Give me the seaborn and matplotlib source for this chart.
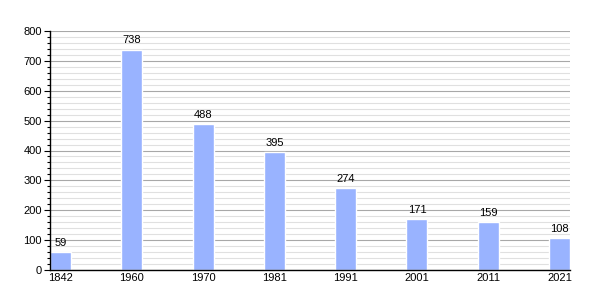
import matplotlib
matplotlib.use("Agg")
import matplotlib.pyplot as plt
import seaborn as sns
import pandas as pd
from matplotlib.ticker import MultipleLocator

years = ["1842", "1960", "1970", "1981", "1991", "2001", "2011", "2021"]
population = [59, 738, 488, 395, 274, 171, 159, 108]

sns.set_theme(style="white")
plt.rcParams['font.family'] = ['Liberation Sans', 'DejaVu Sans']
plt.rcParams['text.color'] = 'black'
plt.rcParams['xtick.color'] = 'black'
plt.rcParams['ytick.color'] = 'black'

df = pd.DataFrame({"year": years, "pop": population})

fig = plt.figure(figsize=(6, 3), dpi=100)
ax = fig.add_axes([50/600, 30/300, 520/600, 239/300])

w = 0.295
sns.barplot(data=df, x="year", y="pop", color="#99b3ff", saturation=1,
            width=w, ax=ax, zorder=3)

ax.set_xlim(-w/2, len(years) - 1 + w/2)
ax.set_ylim(0, 800)
ax.yaxis.set_major_locator(MultipleLocator(100))
ax.yaxis.set_minor_locator(MultipleLocator(20))
ax.grid(which="major", axis="y", color="#a8a8a8", linewidth=0.8, zorder=0)
ax.grid(which="minor", axis="y", color="#e0e0e0", linewidth=0.8, zorder=0)
ax.set_axisbelow(True)

for s in ["top", "right"]:
    ax.spines[s].set_visible(False)
for s in ["left", "bottom"]:
    ax.spines[s].set_color("black")
    ax.spines[s].set_linewidth(1)
    ax.spines[s].set_zorder(4)

ax.tick_params(axis="y", which="major", left=True, length=4, width=0.8,
               color="black", labelcolor="black", labelsize=8, pad=2)
ax.tick_params(axis="y", which="minor", left=True, length=2, width=0.8,
               color="black")
ax.tick_params(axis="x", bottom=False, length=0, labelsize=8, pad=2,
               labelcolor="black")
ax.set_xlabel("")
ax.set_ylabel("")

for c in ax.containers:
    ax.bar_label(c, labels=[str(v) for v in population], padding=3,
                 fontsize=8, color="black")

fig.savefig("out.png", dpi=100)
